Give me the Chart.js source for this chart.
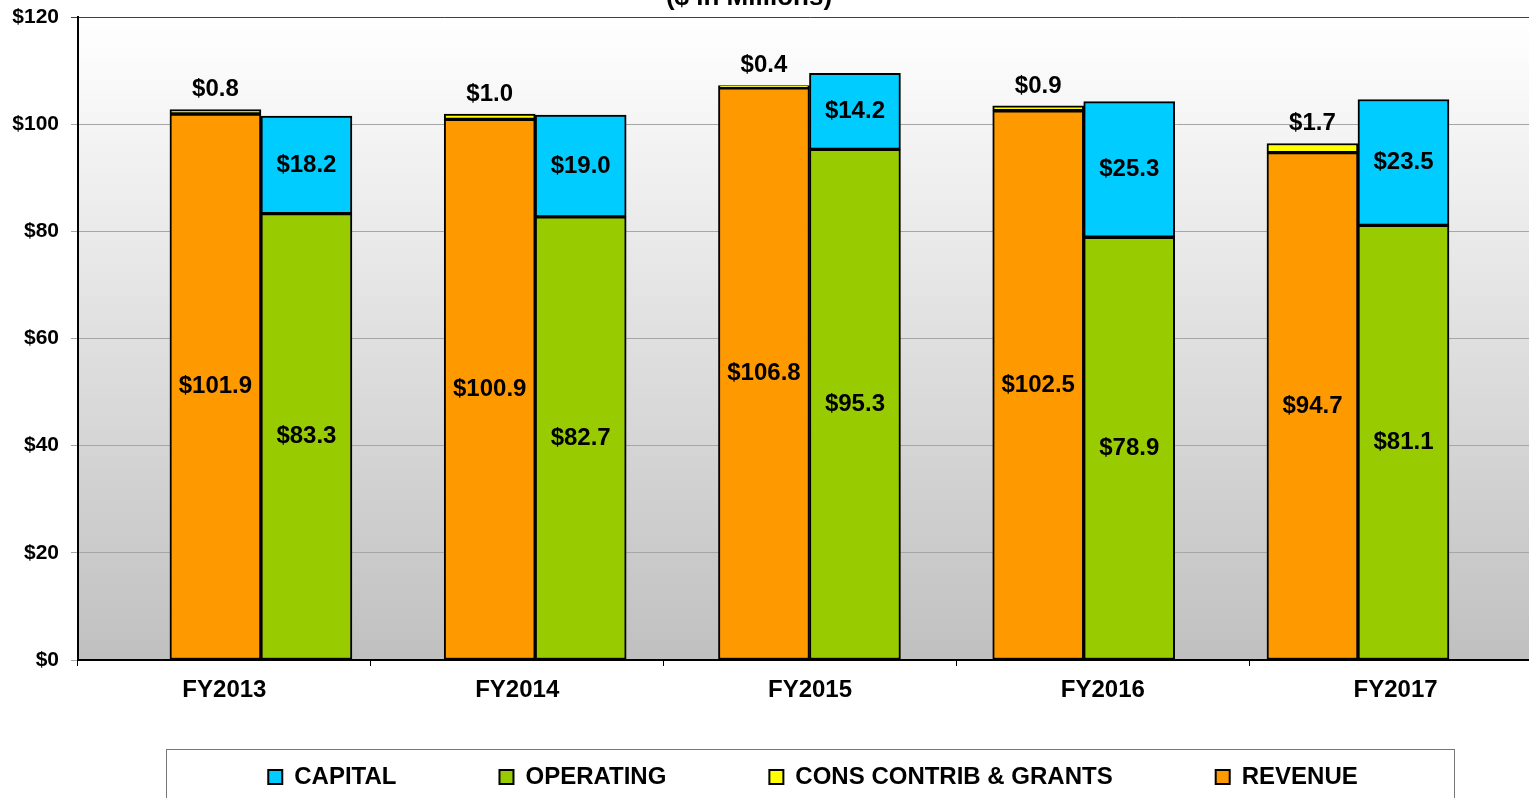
<!DOCTYPE html>
<html>
<head>
<meta charset="utf-8">
<title>Funding vs Spending</title>
<script src="https://cdn.jsdelivr.net/npm/chart.js@4.4.1/dist/chart.umd.min.js"></script>
<style>
  html, body { margin: 0; padding: 0; overflow: hidden; background: #fff; }
  #wrap { position: absolute; left: 0; top: -16px; }
</style>
</head>
<body>
<div id="wrap"><canvas id="fundsChart" width="1560" height="836"></canvas></div>
<script>
const years = ["FY2013", "FY2014", "FY2015", "FY2016", "FY2017"];
const revenue = [101.9, 100.9, 106.8, 102.5, 94.7];
const consContrib = [0.8, 1.0, 0.4, 0.9, 1.7];
const operating = [83.3, 82.7, 95.3, 78.9, 81.1];
const capital = [18.2, 19.0, 14.2, 25.3, 23.5];
const yTicks = [0, 20, 40, 60, 80, 100, 120];

const fontFamily = "'Liberation Sans', Arial, sans-serif";
Chart.defaults.font.family = fontFamily;
Chart.defaults.font.weight = "bold";
Chart.defaults.color = "#000";

// bars sit on their own hidden axis, one unit per fiscal year
function points(values) {
    return values.map((v, i) => ({ x: i, y: v }));
}

const barStyle = {
    xAxisID: "xb",
    borderColor: "#000",
    borderWidth: 2,
    borderSkipped: false,
    barThickness: 91,
};

// gray gradient behind the plot
const plotBackground = {
    id: "plotBackground",
    beforeDraw(chart) {
        const { ctx, chartArea: a } = chart;
        const g = ctx.createLinearGradient(0, a.top, 0, a.bottom);
        g.addColorStop(0, "#ffffff");
        g.addColorStop(1, "#c0c0c0");
        ctx.save();
        ctx.fillStyle = g;
        ctx.fillRect(a.left, a.top, a.right - a.left, a.bottom - a.top);
        ctx.restore();
    },
};

// value labels: centred in the bar, or above it for the thin one
const barLabels = {
    id: "barLabels",
    afterDatasetsDraw(chart) {
        const ctx = chart.ctx;
        ctx.save();
        ctx.font = "bold 24px " + fontFamily;
        ctx.fillStyle = "#000";
        ctx.textAlign = "center";
        ctx.textBaseline = "middle";
        chart.data.datasets.forEach((ds, di) => {
            chart.getDatasetMeta(di).data.forEach((bar, i) => {
                const text = "$" + ds.data[i].y.toFixed(1);
                const y = ds.labelAbove ? bar.y - 20 : (bar.y + bar.base) / 2;
                ctx.fillText(text, bar.x, y);
            });
        });
        ctx.restore();
    },
};

// move title / legend to where the original had them, and frame the legend
const boxPlacement = {
    id: "boxPlacement",
    afterLayout(chart) {
        const t = chart.titleBlock;
        const tdx = 749 - (t.left + t.right) / 2;
        t.left += tdx;
        t.right += tdx;

        const lg = chart.legend;
        const ldx = 813 - (lg.left + lg.right) / 2;
        lg.left += ldx;
        lg.right += ldx;
        // legend clips to its own box, so keep it tall enough
        lg.top = 793 - lg.options.labels.padding - 24 / 2;
        lg.bottom = chart.height;
    },
    afterDraw(chart) {
        const lg = chart.legend;
        const cx = (lg.left + lg.right) / 2;
        const ctx = chart.ctx;
        ctx.save();
        ctx.strokeStyle = "#777";
        ctx.lineWidth = 1;
        ctx.strokeRect(Math.round(cx - 647) + 0.5, 765.5, 1288, 120);
        ctx.restore();
    },
};

new Chart(document.getElementById("fundsChart"), {
    type: "bar",
    data: {
        labels: years,
        datasets: [
            { label: "REVENUE", data: points(revenue), stack: "funding", backgroundColor: "#ff9900", ...barStyle },
            { label: "CONS CONTRIB & GRANTS", data: points(consContrib), stack: "funding", backgroundColor: "#ffff00", labelAbove: true, ...barStyle },
            { label: "OPERATING", data: points(operating), stack: "spending", backgroundColor: "#99cc00", ...barStyle },
            { label: "CAPITAL", data: points(capital), stack: "spending", backgroundColor: "#00ccff", ...barStyle },
        ],
    },
    options: {
        responsive: false,
        animation: false,
        layout: { padding: { left: 0, right: 18, top: 0, bottom: 0 } },
        scales: {
            x: {
                type: "category",
                position: "bottom",
                offset: true,
                grid: { offset: true, drawOnChartArea: false, color: "#000", tickLength: 6 },
                border: { color: "#000", width: 2 },
                ticks: { font: { size: 24 }, padding: 10 },
                afterFit(s) { s.height = 60; },
            },
            xb: {
                type: "linear",
                display: false,
                offset: false,
                min: -0.667,
                max: 4.671,
                ticks: { stepSize: 1, includeBounds: false },
            },
            y: {
                stacked: true,
                min: 0,
                max: 120,
                afterBuildTicks(s) { s.ticks = yTicks.map(value => ({ value })); },
                ticks: { font: { size: 21 }, padding: 12, callback: v => "$" + v },
                grid: {
                    color: c => (c.tick && c.tick.value === 120 ? "#404040" : "#a6a6a6"),
                    tickLength: 7,
                },
                border: { color: "#000", width: 2 },
                afterFit(s) { s.width = 78; },
            },
        },
        plugins: {
            title: {
                display: true,
                text: "($ in Millions)",
                font: { size: 26, lineHeight: 1 },
                padding: { top: 1, bottom: 6 },
                color: "#000",
            },
            legend: {
                position: "bottom",
                reverse: true,
                maxHeight: 100,
                labels: {
                    boxWidth: 14,
                    boxHeight: 14,
                    padding: 103,
                    font: { size: 24 },
                    color: "#000",
                },
            },
            tooltip: { enabled: false },
        },
    },
    plugins: [plotBackground, barLabels, boxPlacement],
});
</script>
</body>
</html>
